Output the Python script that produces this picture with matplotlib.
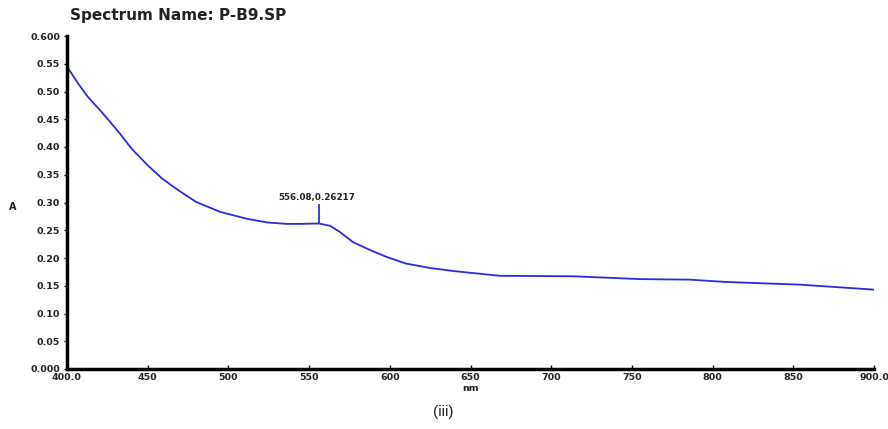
import matplotlib
matplotlib.use("Agg")
import matplotlib.pyplot as plt

# Data
wavelength_nm = [400, 407, 413, 421.5, 432, 440, 450, 459, 469, 480, 495, 511, 524, 536,
                 545, 556.08, 563, 569, 577, 588, 598, 610, 625, 641, 668, 714, 755, 786,
                 807, 854, 900]
absorbance = [0.545, 0.514, 0.490, 0.463, 0.427, 0.397, 0.367, 0.343, 0.322, 0.301, 0.283,
              0.271, 0.264, 0.2615, 0.2615, 0.26217, 0.258, 0.247, 0.229, 0.214, 0.202,
              0.190, 0.182, 0.176, 0.168, 0.167, 0.162, 0.161, 0.157, 0.152, 0.143]
peak_x = 556.08
peak_y = 0.26217
x_ticks = [400, 450, 500, 550, 600, 650, 700, 750, 800, 850, 900]
x_tick_labels = ["400.0", "450", "500", "550", "600", "650", "700", "750", "800", "850", "900.0"]
y_ticks = [0.0, 0.05, 0.10, 0.15, 0.20, 0.25, 0.30, 0.35, 0.40, 0.45, 0.50, 0.55, 0.60]
y_tick_labels = ["0.000", "0.05", "0.10", "0.15", "0.20", "0.25", "0.30", "0.35",
                 "0.40", "0.45", "0.50", "0.55", "0.600"]
title = "Spectrum Name: P-B9.SP"
caption = "(iii)"

fig = plt.figure(figsize=(8.88, 4.29), dpi=100)
ax = fig.add_axes([67/888, 1-369/429, (874-67)/888, (369-36)/429])

ax.plot(wavelength_nm, absorbance, color="#2a2ae0", lw=1.3, solid_joinstyle="round")
ax.vlines(peak_x, peak_y, peak_y + 0.036, color="#2020c8", lw=1.2)
ax.text(peak_x - 1, peak_y + 0.038, f"{peak_x:.2f},{peak_y:.5f}", ha="center", va="bottom",
        fontsize=6.3, fontweight="bold", color="#222222")

ax.set_xlim(400, 900)
ax.set_ylim(0, 0.6)
ax.set_xticks(x_ticks)
ax.set_xticklabels(x_tick_labels)
ax.set_yticks(y_ticks)
ax.set_yticklabels(y_tick_labels)
for lab in ax.get_xticklabels() + ax.get_yticklabels():
    lab.set_fontweight("bold")
    lab.set_fontsize(6.8)
    lab.set_color("#222222")
ax.tick_params(axis="x", direction="in", length=3, width=1, pad=3)
ax.tick_params(axis="y", direction="out", length=2, width=1, pad=3)

for s in ["top", "right"]:
    ax.spines[s].set_visible(False)
for s in ["left", "bottom"]:
    ax.spines[s].set_linewidth(2.5)
    ax.spines[s].set_color("black")

ax.set_xlabel("nm", fontsize=6.8, fontweight="bold", color="#222222", labelpad=-1)
ax.xaxis.set_label_coords(0.5, -0.045, transform=ax.transAxes)
ax.xaxis.label.set_verticalalignment("top")

fig.text(13/888, 1-207/429, "A", fontsize=7, fontweight="bold", ha="center", va="center",
         color="#222222")
fig.text(70/888, 1-15.5/429, title, fontsize=11, fontweight="bold", ha="left", va="center",
         color="#222222")
fig.text(443/888, 1-412/429, caption, fontsize=11, ha="center", va="center",
         family="Liberation Sans", color="#222222")

fig.savefig("out.png", dpi=100)
